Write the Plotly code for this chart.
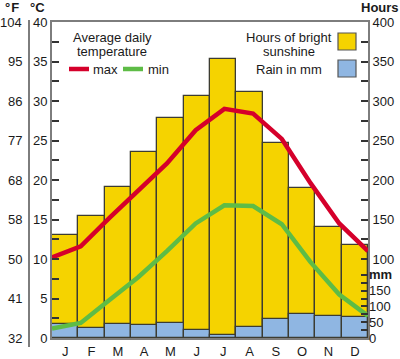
import plotly.graph_objects as go

# ---------------- data ----------------
months = ["January", "February", "March", "April", "May", "June",
          "July", "August", "September", "October", "November", "December"]
month_letters = ["J", "F", "M", "A", "M", "J", "J", "A", "S", "O", "N", "D"]

sunshine_hours = [131, 154, 191, 235, 278, 306, 353, 312, 247, 190, 140, 118]
rain_mm = [43, 33, 44, 42, 46, 24, 9, 34, 59, 75, 70, 66]
temp_max_c = [10.2, 11.6, 15.2, 18.6, 22.1, 26.3, 29.0, 28.4, 25.2, 19.6, 14.5, 11.0]
temp_min_c = [1.2, 1.9, 4.8, 7.7, 11.0, 14.5, 16.8, 16.7, 14.4, 9.6, 5.5, 2.8]

celsius_ticks = [0, 5, 10, 15, 20, 25, 30, 35, 40]
fahrenheit_labels = ["32", "41", "50", "58", "68", "77", "86", "95", "104"]
hours_ticks = [100, 150, 200, 250, 300, 350, 400]
mm_ticks = [0, 50, 100, 150]

# ---------------- styling helpers ----------------
W, H = 400, 359
PL, PR, PT, PB = 52, 368, 22, 338
FONT = "Liberation Sans, Arial, Helvetica, sans-serif"
TXT = "#1a1a1a"
AXC = "#7d7d7d"
EDGE = "#3c3c32"
YELLOW = "#F5D300"
BLUE = "#8FB6E2"
RED = "#D5002B"
GREEN = "#5EBC46"


def px(x):
    return x / W


def py(y):
    return (PB - y) / (PB - PT)


def minor_steps(lo, hi, step):
    out = []
    v = lo
    while v <= hi + 1e-9:
        out.append(round(v, 3))
        v += step
    return out


c_minor = minor_steps(0, 40, 2.5)
c_text = [str(int(v)) if v in celsius_ticks else "" for v in c_minor]
h_minor = minor_steps(100, 400, 25)
h_text = [str(int(v)) if v in hours_ticks else "" for v in h_minor]
mm_minor = minor_steps(0, 200, 25)
mm_text = [str(int(v)) if v in mm_ticks else "" for v in mm_minor]
mm_text[-1] = "<b>mm</b>"

fig = go.Figure()

# sunshine bars on the main subplot (hours axis)
fig.add_trace(go.Bar(
    x=months, y=sunshine_hours, xaxis="x", yaxis="y",
    marker=dict(color=YELLOW, line=dict(color=EDGE, width=1.3)),
    width=1.0, showlegend=False, hoverinfo="skip"))

# rain bars on the mm axis
fig.add_trace(go.Bar(
    x=months, y=rain_mm, xaxis="x", yaxis="y3",
    marker=dict(color=BLUE, line=dict(color=EDGE, width=1.3)),
    width=1.0, showlegend=False, hoverinfo="skip"))

# temperature lines on the degC axis, spread edge to edge
fig.add_trace(go.Scatter(
    x=months, y=temp_max_c, xaxis="x2", yaxis="y2", mode="lines",
    line=dict(color=RED, width=4.5), showlegend=False, hoverinfo="skip"))

fig.add_trace(go.Scatter(
    x=months, y=temp_min_c, xaxis="x2", yaxis="y2", mode="lines",
    line=dict(color=GREEN, width=4.5), showlegend=False, hoverinfo="skip"))

tickfont = dict(family=FONT, size=13, color=TXT)

fig.update_layout(
    width=W, height=H,
    margin=dict(l=0, r=0, t=PT, b=H - PB),
    paper_bgcolor="white", plot_bgcolor="white",
    barmode="overlay", bargap=0,
    font=dict(family=FONT, size=13, color=TXT),
    xaxis=dict(domain=[px(PL), px(PR)], type="category",
               range=[-0.5, 11.5], tickvals=months, ticktext=month_letters,
               showline=True, linecolor=AXC, linewidth=2, mirror=True,
               ticks="", showgrid=False, zeroline=False, tickfont=tickfont,
               fixedrange=True),
    xaxis2=dict(overlaying="x", anchor="y2", type="category", range=[0, 11],
                showticklabels=False, showline=False, ticks="",
                showgrid=False, zeroline=False),
    yaxis=dict(range=[0, 400], side="right", anchor="x",
               tickvals=h_minor, ticktext=h_text, ticks="inside", ticklen=7,
               tickwidth=1.5, tickcolor="#333333",
               showline=True, linecolor=AXC, linewidth=2,
               showgrid=False, zeroline=False, tickfont=tickfont),
    yaxis2=dict(range=[0, 40], side="left", anchor="x", overlaying="y",
                tickvals=c_minor, ticktext=c_text, ticks="inside", ticklen=7,
                tickwidth=1.5, tickcolor="#333333",
                showline=True, linecolor=AXC, linewidth=2,
                showgrid=False, zeroline=False, tickfont=tickfont),
    yaxis3=dict(range=[0, 1000], side="right", anchor="x", overlaying="y",
                tickvals=mm_minor, ticktext=mm_text, ticks="inside", ticklen=7,
                tickwidth=1.5, tickcolor="#333333",
                showline=False, showgrid=False, zeroline=False, tickfont=tickfont),
)

shapes = []
shapes.append(dict(type="line", xref="paper", yref="paper",
                   x0=px(29), x1=px(29), y0=py(20), y1=py(347),
                   line=dict(color=AXC, width=2)))
shapes.append(dict(type="line", xref="paper", yref="paper",
                   x0=px(69), x1=px(89), y0=py(69), y1=py(69),
                   line=dict(color=RED, width=4.5)))
shapes.append(dict(type="line", xref="paper", yref="paper",
                   x0=px(123), x1=px(143), y0=py(69), y1=py(69),
                   line=dict(color=GREEN, width=4.5)))
shapes.append(dict(type="rect", xref="paper", yref="paper",
                   x0=px(338), x1=px(356), y0=py(33), y1=py(50),
                   fillcolor=YELLOW, line=dict(color="#555555", width=1.2)))
shapes.append(dict(type="rect", xref="paper", yref="paper",
                   x0=px(338), x1=px(356), y0=py(60), y1=py(77),
                   fillcolor=BLUE, line=dict(color="#555555", width=1.2)))
fig.update_layout(shapes=shapes)


def ann(text, x, y, xanchor="center", bold=False, size=13):
    return dict(text=f"<b>{text}</b>" if bold else text,
                x=px(x), y=py(y), xref="paper", yref="paper",
                xanchor=xanchor, yanchor="middle", showarrow=False,
                font=dict(family=FONT, size=size, color=TXT))


annotations = [
    ann("°&#8202;F", 12, 8, bold=True),
    ann("°C", 37, 8, bold=True),
    ann("Hours", 380, 8, bold=True),
    ann("Average daily", 112, 37.5),
    ann("temperature", 112, 52),
    ann("max", 91, 69, xanchor="left"),
    ann("min", 146, 69, xanchor="left"),
    ann("Hours of bright", 289, 37.5),
    ann("sunshine", 289, 52),
    ann("Rain in mm", 324, 69, xanchor="right"),
]
# degF labels placed against the degC scale
for c_val, f_lab in zip(celsius_ticks, fahrenheit_labels):
    annotations.append(dict(text=f_lab, x=px(24), y=c_val, xref="paper", yref="y2",
                            xanchor="right", yanchor="middle", showarrow=False,
                            font=dict(family=FONT, size=13, color=TXT)))
fig.update_layout(annotations=annotations)

fig.write_html("out.html", config={"displayModeBar": False},
               post_script="document.body.style.margin='0';")
